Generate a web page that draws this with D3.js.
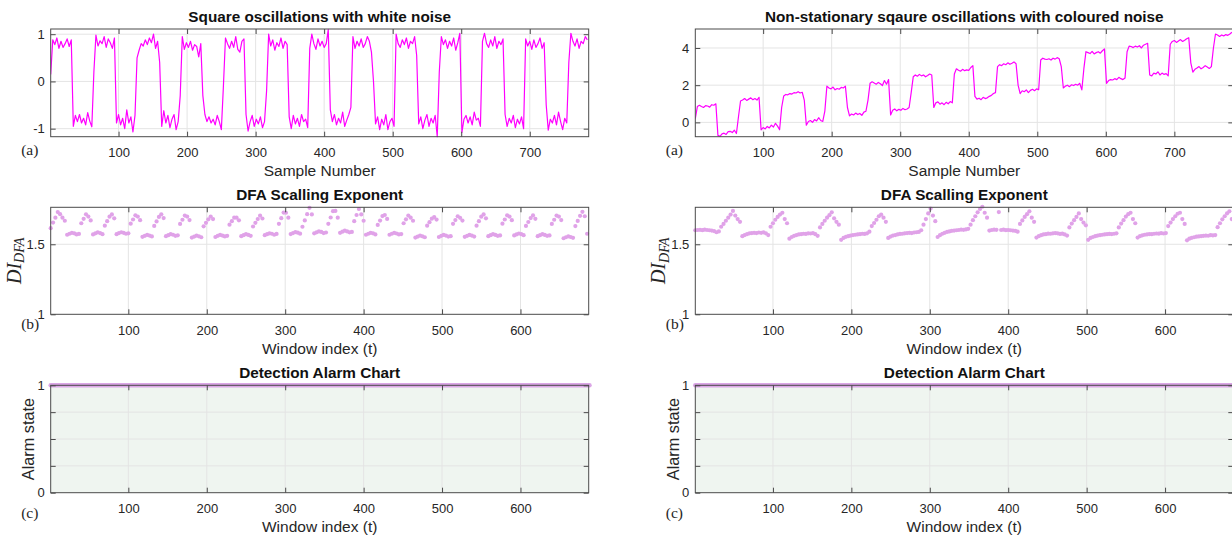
<!DOCTYPE html>
<html><head><meta charset="utf-8">
<script src="https://cdn.jsdelivr.net/npm/d3@7"></script>
<style>
body{margin:0;background:#fff}
</style>
</head><body>
<svg id="chart" width="1232" height="541" font-family='"Liberation Sans",Arial,Helvetica,sans-serif'></svg>
<script>
// ---------------- DATA ----------------
// Signals sampled every 3rd sample: sample numbers 1,4,7,...,784
const sampleStep = 3;
const sampleDomain = [1, 786];
const whiteNoiseSignal = [
0.15,0.88,0.78,0.92,0.70,0.85,0.72,0.80,0.90,0.74,0.88,
-0.95,-0.72,-0.85,-0.70,-0.88,-0.78,-0.92,-0.66,-0.84,-0.96,
0.20,
0.98,0.75,0.86,0.80,0.95,0.72,0.90,0.82,0.70,0.92,
-0.88,-0.70,-0.92,-0.78,-1.00,-0.60,-0.88,-0.75,-1.07,-0.72,
0.50,
0.66,0.80,0.75,0.88,0.78,0.92,0.82,1.00,0.70,0.85,0.40,
-0.95,-0.62,-0.88,-0.72,-0.98,-0.80,-0.70,-1.02,-0.85,-0.30,
0.95,0.68,0.82,0.72,0.85,0.66,0.78,0.74,0.52,0.80,
-0.30,-0.70,-0.85,-0.75,-0.88,-0.80,-0.92,-0.72,-0.85,-1.02,-0.10,
0.92,0.80,0.70,0.85,0.72,0.95,0.68,0.62,0.85,0.90,
-0.70,-1.05,-0.85,-0.72,-0.95,-0.80,-0.90,-0.75,-0.98,-0.85,-0.20,
1.00,0.75,0.88,0.66,0.82,0.74,0.92,0.70,0.85,0.78,
-0.75,-1.00,-0.72,-0.90,-0.78,-0.95,-0.70,-0.85,-0.80,-0.98,
0.70,1.00,0.80,0.68,0.90,0.75,0.85,0.72,0.80,1.10,
-0.60,-0.85,-0.70,-0.92,-0.78,-0.88,-0.65,-0.95,-0.82,-0.70,-0.55,
0.95,0.70,0.85,0.75,0.90,0.72,0.80,0.95,0.85,0.62,
0.00,-0.90,-0.75,-1.02,-0.80,-0.92,-0.70,-1.02,-0.85,-0.78,-0.95,
1.00,0.80,0.72,0.88,0.78,0.92,0.70,0.85,0.80,0.95,0.55,
-0.90,-0.75,-1.00,-0.82,-0.70,-0.95,-0.78,-0.88,-0.72,-1.17,
0.20,
0.95,0.78,0.88,0.70,0.85,0.75,0.92,0.66,0.82,1.02,
-1.08,-0.80,-0.72,-0.88,-0.75,-0.92,-0.65,-0.82,-0.78,-0.95,
0.85,1.02,0.80,0.72,0.88,0.75,0.95,0.70,0.85,0.78,0.90,
-0.70,-0.95,-0.78,-0.88,-0.72,-0.98,-0.80,-0.90,-0.75,-1.00,
0.90,0.75,0.85,0.68,0.88,0.72,0.80,0.92,0.70,0.82,
-0.50,-1.03,-0.80,-0.88,-0.72,-0.92,-0.65,-0.85,-1.02,-0.78,-0.88,
0.40,1.02,0.85,0.75,0.90,0.70,0.85,0.80,0.95,0.88
];
const colouredNoiseSignal = [
0.20,0.85,0.92,0.85,0.80,0.90,0.88,0.82,0.95,0.92,1.00,
-0.70,-0.75,-0.62,-0.58,-0.65,-0.50,-0.48,-0.55,-0.42,-0.60,
0.30,
1.15,1.20,1.28,1.18,1.25,1.32,1.22,1.28,1.20,1.35,
-0.40,-0.28,-0.35,-0.22,-0.30,-0.15,-0.25,-0.05,-0.20,-0.40,
0.80,
1.42,1.50,1.48,1.55,1.52,1.60,1.58,1.65,1.58,1.62,1.20,
-0.15,0.05,0.10,0.00,0.15,0.08,0.25,0.10,0.05,0.60,
1.95,1.85,1.80,1.90,1.75,1.82,1.78,1.88,1.85,1.95,
0.80,0.35,0.45,0.40,0.50,0.42,0.48,0.38,0.55,0.60,1.20,
2.10,2.18,2.12,2.05,2.15,2.08,1.98,2.25,2.05,2.30,
0.40,0.65,0.72,0.62,0.70,0.65,0.75,0.68,0.72,0.80,1.60,
2.45,2.55,2.48,2.58,2.50,2.55,2.45,2.52,2.60,2.55,
0.80,1.05,1.10,0.98,1.05,0.95,1.08,1.00,1.12,1.05,
2.60,2.88,2.80,2.75,2.85,2.78,2.82,2.80,2.95,3.05,
1.40,1.25,1.30,1.22,1.35,1.28,1.32,1.40,1.45,1.55,1.60,
3.00,3.10,3.05,3.15,3.10,3.20,3.12,3.18,3.25,3.15,
2.00,1.55,1.70,1.65,1.75,1.60,1.72,1.78,1.70,1.80,1.75,
3.35,3.45,3.40,3.38,3.42,3.35,3.45,3.40,3.48,3.42,3.00,
1.85,1.95,2.00,1.92,2.02,1.98,2.05,2.00,2.10,1.75,
2.90,
3.80,3.75,3.70,3.82,3.68,3.75,3.80,3.72,3.85,3.95,
2.10,2.25,2.30,2.28,2.35,2.30,2.42,2.35,2.30,2.38,
3.80,4.10,4.08,4.02,4.10,4.05,4.12,4.00,4.15,4.20,4.25,
2.55,2.50,2.65,2.60,2.72,2.55,2.65,2.58,2.62,2.50,
4.20,4.35,4.40,4.30,4.38,4.45,4.35,4.42,4.50,4.55,
3.20,2.70,2.85,2.92,3.00,2.88,2.95,3.05,2.98,2.90,3.00,
4.00,4.75,4.70,4.62,4.70,4.65,4.72,4.68,4.75,4.85
];

// DFA scaling exponent, every 3rd window: window index 1,4,7,...,685
const windowStep = 3;
const windowDomain = [1, 687];
const dfaWhite = [
1.615,1.655,1.690,1.730,1.715,1.690,1.668,
1.568,1.575,1.582,1.578,1.570,1.574,
1.650,1.682,1.714,1.698,1.670,
1.570,1.578,1.585,1.580,1.572,
1.633,1.665,1.697,1.713,1.685,
1.572,1.580,1.586,1.582,1.575,1.578,
1.647,1.677,1.707,1.698,1.672,
1.553,1.560,1.567,1.562,1.556,
1.631,1.663,1.695,1.714,1.687,
1.558,1.565,1.572,1.568,1.560,1.564,
1.645,1.675,1.705,1.698,1.673,
1.548,1.555,1.562,1.557,1.550,
1.628,1.653,1.678,1.698,1.680,
1.552,1.560,1.567,1.562,1.556,1.560,
1.640,1.665,1.690,1.690,1.671,
1.558,1.565,1.572,1.567,1.560,
1.627,1.653,1.680,1.704,1.684,
1.565,1.572,1.578,1.575,1.568,1.574,
1.646,1.686,1.726,1.725,1.690,
1.573,1.580,1.587,1.583,1.576,
1.625,1.670,1.715,1.760,1.713,
1.578,1.585,1.592,1.588,1.580,1.584,
1.646,1.691,1.736,1.738,1.690,
1.582,1.590,1.597,1.592,1.585,1.588,
1.665,1.709,1.752,1.713,1.668,
1.568,1.575,1.582,1.578,1.570,
1.638,1.669,1.701,1.709,1.681,
1.568,1.575,1.582,1.577,1.570,1.573,
1.650,1.678,1.705,1.690,1.668,
1.548,1.555,1.562,1.557,1.550,
1.633,1.658,1.683,1.694,1.676,
1.552,1.560,1.567,1.562,1.555,1.558,
1.646,1.673,1.700,1.689,1.669,
1.553,1.560,1.567,1.562,1.555,
1.633,1.665,1.697,1.713,1.685,
1.558,1.565,1.572,1.567,1.560,1.563,
1.647,1.677,1.707,1.698,1.672,
1.563,1.570,1.577,1.572,1.565,
1.631,1.659,1.687,1.706,1.682,
1.558,1.565,1.572,1.567,1.560,1.563,
1.645,1.675,1.705,1.698,1.673,
1.543,1.550,1.557,1.552,1.546,
1.630,1.667,1.703,1.732,1.700,
1.575
];
const dfaColoured = [
1.600,1.602,1.603,1.601,1.604,1.602,1.600,1.598,1.594,1.586,1.592,
1.625,1.645,1.668,1.690,1.712,1.738,1.705,1.680,1.660,
1.558,1.566,1.572,1.578,1.580,1.582,1.580,1.584,1.582,1.585,1.578,1.566,
1.625,1.650,1.675,1.695,1.712,1.725,1.680,1.650,
1.540,1.552,1.560,1.566,1.570,1.572,1.575,1.574,1.578,1.577,1.580,1.572,1.560,
1.620,1.645,1.668,1.690,1.708,1.728,1.685,1.660,1.640,
1.532,1.545,1.553,1.558,1.562,1.566,1.568,1.570,1.572,1.575,1.574,1.578,1.590,
1.630,1.652,1.675,1.700,1.712,1.690,1.660,
1.545,1.555,1.562,1.566,1.570,1.574,1.575,1.578,1.580,1.582,1.580,1.584,1.586,1.588,1.600,
1.640,1.680,1.720,1.755,1.705,1.665,
1.552,1.565,1.575,1.582,1.588,1.592,1.596,1.598,1.600,1.602,1.605,1.603,1.606,1.610,
1.640,1.672,1.700,1.728,1.752,1.768,1.725,1.690,
1.598,1.602,1.604,1.603,1.730,1.602,1.604,1.601,1.602,1.600,1.598,1.596,1.590,
1.645,1.670,1.695,1.715,1.735,1.690,1.660,
1.548,1.558,1.565,1.570,1.572,1.576,1.575,1.578,1.580,1.578,1.574,1.576,1.570,1.562,
1.620,1.648,1.672,1.695,1.720,1.680,1.655,1.635,
1.532,1.545,1.552,1.558,1.562,1.565,1.568,1.570,1.572,1.574,1.573,1.575,1.578,
1.620,1.648,1.672,1.698,1.715,1.725,1.680,1.650,
1.548,1.558,1.564,1.568,1.570,1.573,1.572,1.575,1.577,1.576,1.579,1.577,1.580,
1.630,1.655,1.680,1.700,1.718,1.725,1.680,1.645,
1.528,1.540,1.546,1.550,1.554,1.556,1.558,1.560,1.562,1.561,1.565,1.563,1.566,
1.622,1.650,1.678,1.700,1.720,1.735,1.680
];

// Alarm state, every 3rd window (all windows raise the alarm)
const alarmWhite = [
1,1,1,1,1,1,1,1,1,1,1,1,1,1,1,1,1,1,1,1,1,1,1,1,1,1,1,1,1,1,1,1,1,1,1,1,1,1,1,1,
1,1,1,1,1,1,1,1,1,1,1,1,1,1,1,1,1,1,1,1,1,1,1,1,1,1,1,1,1,1,1,1,1,1,1,1,1,1,1,1,
1,1,1,1,1,1,1,1,1,1,1,1,1,1,1,1,1,1,1,1,1,1,1,1,1,1,1,1,1,1,1,1,1,1,1,1,1,1,1,1,
1,1,1,1,1,1,1,1,1,1,1,1,1,1,1,1,1,1,1,1,1,1,1,1,1,1,1,1,1,1,1,1,1,1,1,1,1,1,1,1,
1,1,1,1,1,1,1,1,1,1,1,1,1,1,1,1,1,1,1,1,1,1,1,1,1,1,1,1,1,1,1,1,1,1,1,1,1,1,1,1,
1,1,1,1,1,1,1,1,1,1,1,1,1,1,1,1,1,1,1,1,1,1,1,1,1,1,1,1,1,1
];
const alarmColoured = [
1,1,1,1,1,1,1,1,1,1,1,1,1,1,1,1,1,1,1,1,1,1,1,1,1,1,1,1,1,1,1,1,1,1,1,1,1,1,1,1,
1,1,1,1,1,1,1,1,1,1,1,1,1,1,1,1,1,1,1,1,1,1,1,1,1,1,1,1,1,1,1,1,1,1,1,1,1,1,1,1,
1,1,1,1,1,1,1,1,1,1,1,1,1,1,1,1,1,1,1,1,1,1,1,1,1,1,1,1,1,1,1,1,1,1,1,1,1,1,1,1,
1,1,1,1,1,1,1,1,1,1,1,1,1,1,1,1,1,1,1,1,1,1,1,1,1,1,1,1,1,1,1,1,1,1,1,1,1,1,1,1,
1,1,1,1,1,1,1,1,1,1,1,1,1,1,1,1,1,1,1,1,1,1,1,1,1,1,1,1,1,1,1,1,1,1,1,1,1,1,1,1,
1,1,1,1,1,1,1,1,1,1,1,1,1,1,1,1,1,1,1,1,1,1,1,1,1,1,1,1,1,1
];

const sampleTicks = [100,200,300,400,500,600,700];
const windowTicks = [100,200,300,400,500,600];
const whiteYTicks = [-1,0,1];
const colouredYTicks = [0,2,4];
const dfaYTicks = [1,1.5];
const alarmYTicks = [0,0.25,0.5,0.75,1];
const alarmYLabels = {0:"0",1:"1"};

const titles = {
  whiteSignal: "Square oscillations with white noise",
  colouredSignal: "Non-stationary sqaure oscillations with coloured noise",
  dfa: "DFA Scalling Exponent",
  alarm: "Detection Alarm Chart"
};

// ---------------- LAYOUT ----------------
const svg = d3.select("#chart");
const sans = '"Liberation Sans",Arial,Helvetica,sans-serif';
const serif = '"Liberation Serif","Times New Roman",Times,serif';
const W = 538;
const colLeft = [50.7, 695.3];
const rows = [
  {top: 29, bottom: 136.7},
  {top: 207.3, bottom: 314.3},
  {top: 385.3, bottom: 492.7}
];
const axisColor = "#4a4a4a";
const gridColor = "#e4e4e4";
const textColor = "#262626";
let clipId = 0;

function panel(cfg) {
  const g = svg.append("g");
  const x = d3.scaleLinear().domain(cfg.xDomain).range([cfg.left, cfg.left + W]);
  const y = d3.scaleLinear().domain(cfg.yDomain).range([cfg.bottom, cfg.top]);
  const H = cfg.bottom - cfg.top;
  g.append("rect").attr("x", cfg.left).attr("y", cfg.top).attr("width", W).attr("height", H)
    .attr("fill", cfg.bg || "#fff");
  // grid
  g.append("g").selectAll("line").data(cfg.xTicks).join("line")
    .attr("x1", d => x(d)).attr("x2", d => x(d)).attr("y1", cfg.top).attr("y2", cfg.bottom)
    .attr("stroke", gridColor).attr("stroke-width", 1);
  g.append("g").selectAll("line").data(cfg.yGrid).join("line")
    .attr("y1", d => y(d)).attr("y2", d => y(d)).attr("x1", cfg.left).attr("x2", cfg.left + W)
    .attr("stroke", gridColor).attr("stroke-width", 1);
  // data
  const id = "clip" + (clipId++);
  svg.append("defs").append("clipPath").attr("id", id).append("rect")
    .attr("x", cfg.left).attr("y", cfg.top - 2).attr("width", W).attr("height", H + 4);
  const dg = g.append("g");
  if (cfg.clip) dg.attr("clip-path", `url(#${id})`);
  cfg.draw(dg, x, y);
  // box
  g.append("rect").attr("x", cfg.left).attr("y", cfg.top).attr("width", W).attr("height", H)
    .attr("fill", "none").attr("stroke", axisColor).attr("stroke-width", 1);
  // axes
  const fmt = cfg.yFormat || (d => String(d));
  const ab = g.append("g").attr("transform", `translate(0,${cfg.bottom})`)
    .call(d3.axisBottom(x).tickValues(cfg.xTicks).tickSize(-5).tickPadding(11).tickFormat(d => String(d)));
  const at = g.append("g").attr("transform", `translate(0,${cfg.top})`)
    .call(d3.axisTop(x).tickValues(cfg.xTicks).tickSize(-5).tickFormat(""));
  const al = g.append("g").attr("transform", `translate(${cfg.left},0)`)
    .call(d3.axisLeft(y).tickValues(cfg.yTicks).tickSize(-5).tickPadding(6).tickFormat(fmt));
  const ar = g.append("g").attr("transform", `translate(${cfg.left + W},0)`)
    .call(d3.axisRight(y).tickValues(cfg.yTicks).tickSize(-5).tickFormat(""));
  [ab, at, al, ar].forEach(a => {
    a.attr("font-family", sans);
    a.select(".domain").remove();
    a.selectAll(".tick line").attr("stroke", axisColor);
    a.selectAll("text").attr("font-size", 13).attr("fill", textColor);
  });
  // title
  g.append("text").attr("x", cfg.left + W / 2).attr("y", cfg.top - 7.5)
    .attr("text-anchor", "middle").attr("font-weight", "bold").attr("font-size", 15.3)
    .attr("font-family", sans).attr("fill", "#111").text(cfg.title);
  // x label
  g.append("text").attr("x", cfg.left + W / 2).attr("y", cfg.bottom + cfg.xLabelDy)
    .attr("text-anchor", "middle").attr("font-size", 15.5).attr("font-family", sans)
    .attr("fill", textColor).text(cfg.xLabel);
  // panel tag
  g.append("text").attr("x", cfg.left - 29.5).attr("y", cfg.bottom + cfg.tagDy)
    .attr("font-family", serif).attr("font-size", 15.5)
    .attr("fill", textColor).text(cfg.tag);
  return {g, x, y};
}

function drawLine(values, step, color) {
  return (g, x, y) => {
    g.append("path").datum(values)
      .attr("fill", "none").attr("stroke", color).attr("stroke-width", 1.2)
      .attr("stroke-linejoin", "round")
      .attr("d", d3.line().x((d, i) => x(1 + i * step)).y(d => y(d)));
  };
}
function drawDots(values, step, color) {
  return (g, x, y) => {
    g.selectAll("circle").data(values).join("circle")
      .attr("cx", (d, i) => x(1 + i * step)).attr("cy", d => y(d))
      .attr("r", 2.1).attr("fill", color);
  };
}
function drawAlarm(values, step, color) {
  return (g, x, y) => {
    g.append("path").datum(values)
      .attr("fill", "none").attr("stroke", color).attr("stroke-width", 4.5)
      .attr("stroke-linecap", "round")
      .attr("d", d3.line().x((d, i) => x(1 + i * step)).y(d => y(d)));
  };
}

const magenta = "#ff00ff";
const plum = "#e0a2e8";
const alarmColor = "#dba6e6";

// Column 0: white noise, column 1: coloured noise
const sets = [
  {signal: whiteNoiseSignal, sigY: [-1.17, 1.11], sigTicks: whiteYTicks, title: titles.whiteSignal, dfa: dfaWhite, alarm: alarmWhite},
  {signal: colouredNoiseSignal, sigY: [-0.77, 5.02], sigTicks: colouredYTicks, title: titles.colouredSignal, dfa: dfaColoured, alarm: alarmColoured}
];

sets.forEach((s, c) => {
  const left = colLeft[c];
  panel({left, top: rows[0].top, bottom: rows[0].bottom, xDomain: sampleDomain, yDomain: s.sigY,
    xTicks: sampleTicks, yTicks: s.sigTicks, yGrid: s.sigTicks, title: s.title,
    xLabel: "Sample Number", xLabelDy: 39.5, tag: "(a)", tagDy: 18.5, clip: true,
    draw: drawLine(s.signal, sampleStep, magenta)});
  const p2 = panel({left, top: rows[1].top, bottom: rows[1].bottom, xDomain: windowDomain, yDomain: [1, 1.764],
    xTicks: windowTicks, yTicks: dfaYTicks, yGrid: [1.5], title: titles.dfa,
    xLabel: "Window index (t)", xLabelDy: 39.7, tag: "(b)", tagDy: 14.5, clip: false,
    draw: drawDots(s.dfa, windowStep, plum)});
  // y label DI_DFA
  const cy = (rows[1].top + rows[1].bottom) / 2;
  const t = p2.g.append("text").attr("transform", `translate(${left - 30},${cy}) rotate(-90)`)
    .attr("text-anchor", "middle").attr("fill", textColor)
    .attr("font-family", serif).attr("font-style", "italic");
  t.append("tspan").attr("font-size", 20).text("DI");
  t.append("tspan").attr("font-size", 14).attr("dy", 3.5).text("DFA");
  const p3 = panel({left, top: rows[2].top, bottom: rows[2].bottom, xDomain: windowDomain, yDomain: [0, 1],
    xTicks: windowTicks, yTicks: alarmYTicks, yGrid: [0.25, 0.5, 0.75], title: titles.alarm,
    yFormat: d => alarmYLabels[d] || "", bg: "#eff5f0",
    xLabel: "Window index (t)", xLabelDy: 39.5, tag: "(c)", tagDy: 25.5, clip: false,
    draw: drawAlarm(s.alarm, windowStep, alarmColor)});
  p3.g.append("text").attr("transform", `translate(${left - 16.5},${(rows[2].top + rows[2].bottom) / 2}) rotate(-90)`)
    .attr("text-anchor", "middle").attr("font-size", 16.3).attr("font-family", sans)
    .attr("fill", textColor).text("Alarm state");
});
</script>
</body></html>
